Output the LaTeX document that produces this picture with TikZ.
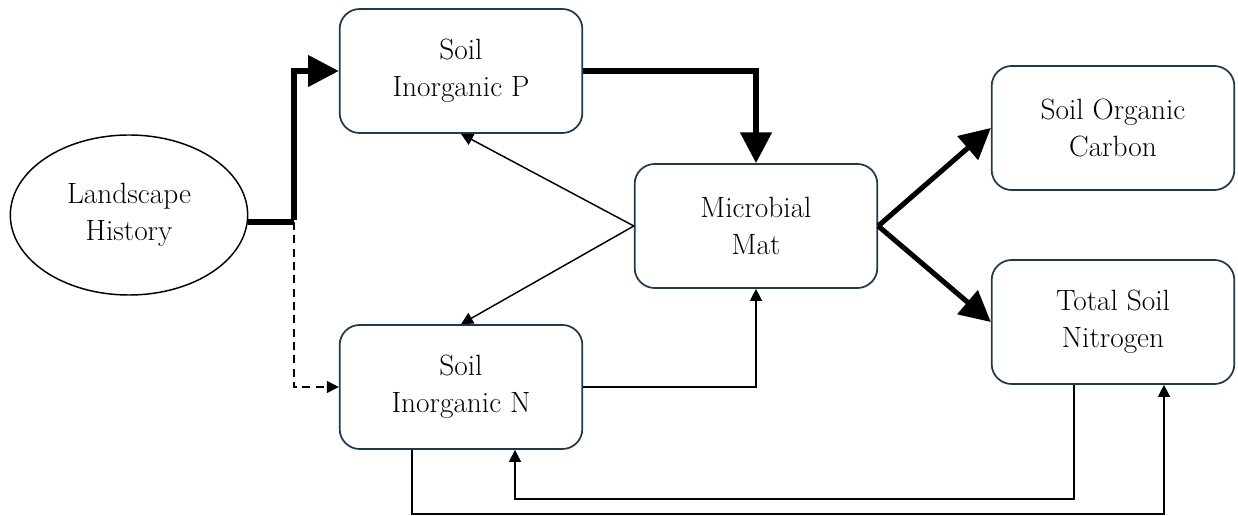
\documentclass[tikz,border=0pt]{standalone}
\usepackage{fontspec}
\usetikzlibrary{arrows.meta,shapes.geometric}
\definecolor{boxline}{HTML}{1F3A4D}
\tikzset{
  box/.style={draw=boxline, line width=1.3pt, rounded corners=15pt, minimum width=182pt, minimum height=93pt, align=center, font=\fontsize{22}{27.7}\selectfont, inner sep=0pt},
  oval/.style={ellipse, draw=black, line width=1.1pt, minimum width=178pt, minimum height=120pt, align=center, font=\fontsize{22}{27.7}\selectfont, inner sep=0pt},
  bigarrow/.style={line width=3.8pt, -{Triangle[length=23pt,width=23pt]}},
  thinarrow/.style={line width=1.1pt, -{Triangle[length=9pt,width=9pt]}},
  dasharrow/.style={line width=1.1pt, dashed, dash pattern=on 6pt off 4pt, -{Triangle[length=9pt,width=9pt]}}
}
\begin{document}
\begin{tikzpicture}[x=0.75pt,y=-0.75pt]
\useasboundingbox (0,0) rectangle (1238,516);
\node[oval] (L) at (129,215) {Landscape\\History};
\node[box] (P) at (461,71) {Soil\\Inorganic P};
\node[box] (N) at (461,387) {Soil\\Inorganic N};
\node[box] (M) at (756,226) {Microbial\\Mat};
\node[box] (C) at (1113,128) {Soil Organic\\Carbon};
\node[box] (T) at (1113,322) {Total Soil\\Nitrogen};
\coordinate (j) at (294,222);
\draw[dasharrow] (j) |- (N.west);
\draw[line width=3.8pt] (L.east |- j) -- (j);
\draw[bigarrow] ([yshift=1.4pt]j) |- (P.west);
\draw[bigarrow] (P.east) -| (M.north);
\draw[thinarrow] (M.west) -- (P.south);
\draw[thinarrow] (M.west) -- (N.north);
\draw[thinarrow] (N.east) -| (M.south);
\draw[bigarrow] (M.east) -- (C.west);
\draw[bigarrow] (M.east) -- (T.west);
\draw[thinarrow] (T.south -| 1074,0) -- (1074,499) -| (N.south -| 515,0);
\draw[thinarrow] (N.south -| 412,0) -- (412,514) -| (T.south -| 1164,0);
\end{tikzpicture}
\end{document}
